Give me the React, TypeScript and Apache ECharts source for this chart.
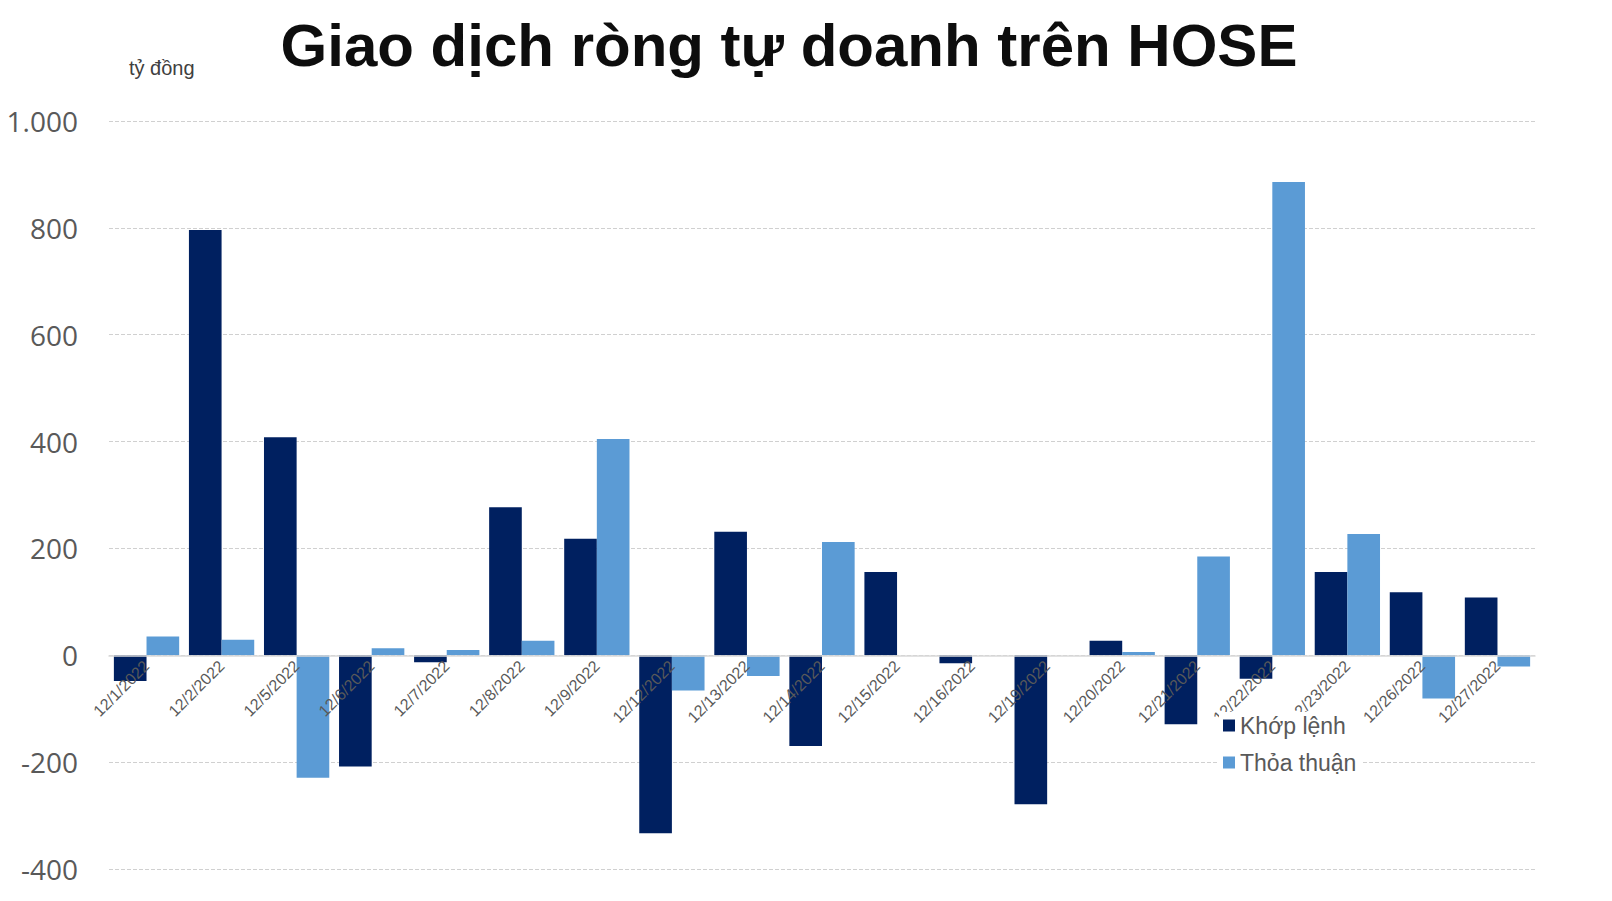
import React, { useEffect, useRef } from "react";
import * as echarts from "echarts";

const categories = [
  "12/1/2022", "12/2/2022", "12/5/2022", "12/6/2022", "12/7/2022", "12/8/2022", "12/9/2022",
  "12/12/2022", "12/13/2022", "12/14/2022", "12/15/2022", "12/16/2022", "12/19/2022",
  "12/20/2022", "12/21/2022", "12/22/2022", "12/23/2022", "12/26/2022", "12/27/2022",
];
const khopLenh = [-48, 796, 408, -208, -13, 277, 218, -333, 231, -170, 156, -15, -279, 27, -129, -44, 156, 118, 108];
const thoaThuan = [35, 29, -229, 13, 10, 27, 405, -66, -39, 212, 0, 0, 0, 6, 185, 886, 227, -81, -21];
const seriesNames = ["Khớp lệnh", "Thỏa thuận"];
const title = "Giao dịch ròng tự doanh trên HOSE";
const unitLabel = "tỷ đồng";

const Y_MIN = -400;
const Y_MAX = 1000;
const GRID_TOP = 121;
const GRID_BOTTOM = 32;
const CHART_H = 901;

export default function App() {
  const ref = useRef<HTMLDivElement>(null);
  useEffect(() => {
    if (!ref.current) return;
    const chart = echarts.init(ref.current, null, { renderer: "svg" });
    const plotH = CHART_H - GRID_TOP - GRID_BOTTOM;
    const zeroOffset = -(plotH * (0 - Y_MIN)) / (Y_MAX - Y_MIN);
    chart.setOption({
      animation: false,
      backgroundColor: "#ffffff",
      title: {
        text: title,
        left: 784,
        top: 10,
        textAlign: "center",
        textStyle: { fontFamily: "Liberation Sans, Arial", fontWeight: "bold", fontSize: 60, color: "#0d0d0d" },
      },
      graphic: [
        {
          type: "text",
          left: 129,
          top: 58,
          style: { text: unitLabel, fontFamily: "Liberation Sans, Arial", fontSize: 20, fill: "#404040" },
        },
      ],
      legend: {
        orient: "vertical",
        left: 1219,
        top: 712,
        itemWidth: 12,
        itemHeight: 12,
        itemGap: 14,
        backgroundColor: "#ffffff",
        padding: [2, 6, 2, 4],
        icon: "rect",
        textStyle: { fontFamily: "Liberation Sans, Arial", fontSize: 23, color: "#595959" },
        data: seriesNames,
        z: 20,
      },
      grid: { left: 109, right: 77, top: GRID_TOP, bottom: GRID_BOTTOM, containLabel: false },
      xAxis: {
        type: "category",
        data: categories,
        offset: zeroOffset,
        z: 5,
        axisLine: { onZero: false, lineStyle: { color: "#d9d9d9", width: 1.5 } },
        axisTick: { show: false },
        axisLabel: {
          interval: 0,
          rotate: 45,
          margin: 8,
          fontFamily: "Liberation Sans, Arial",
          fontSize: 16,
          color: "#595959",
        },
      },
      yAxis: {
        type: "value",
        min: Y_MIN,
        max: Y_MAX,
        interval: 200,
        axisLine: { show: false },
        axisTick: { show: false },
        axisLabel: {
          margin: 31,
          fontFamily: "Open Sans, Noto Sans, sans-serif",
          fontSize: 28,
          color: "#595959",
          formatter: (v: number) => (Math.abs(v) >= 1000 ? String(v).replace(/(\d)(\d{3})$/, "$1.$2") : String(v)),
        },
        splitLine: { lineStyle: { color: "#d0d0d0", type: "dashed", width: 1 } },
      },
      series: [
        {
          name: seriesNames[0],
          type: "bar",
          data: khopLenh,
          barGap: "0%",
          barCategoryGap: "13%",
          itemStyle: { color: "#002060" },
        },
        {
          name: seriesNames[1],
          type: "bar",
          data: thoaThuan,
          barGap: "0%",
          barCategoryGap: "13%",
          itemStyle: { color: "#5b9bd5" },
        },
      ],
    });
    return () => chart.dispose();
  }, []);
  return <div ref={ref} style={{ position: "fixed", left: 0, top: 0, width: 1612, height: 901 }} />;
}
